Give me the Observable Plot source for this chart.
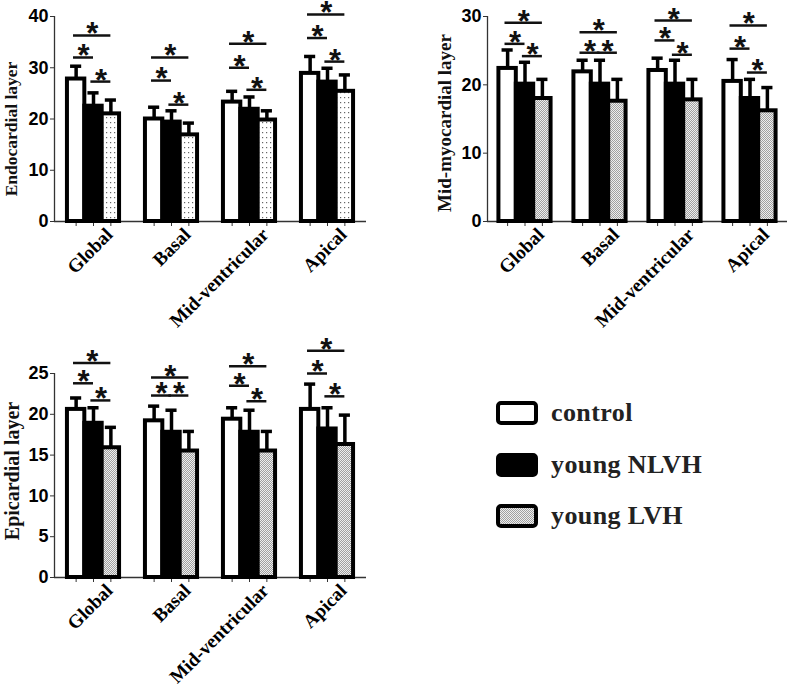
<!DOCTYPE html>
<html><head><meta charset="utf-8">
<script src="https://cdn.jsdelivr.net/npm/d3@7"></script>
<script src="https://cdn.jsdelivr.net/npm/@observablehq/plot@0.6"></script>
<style>
body{margin:0;background:#fff;}
#root{position:relative;width:800px;height:687px;overflow:hidden;background:#fff;}
.panel{position:absolute;}
.panel svg{overflow:visible;}
.ylab{position:absolute;font-weight:bold;font-family:"Liberation Serif","Times New Roman",serif;white-space:nowrap;transform:translate(-50%,-50%) rotate(-90deg);color:#111;}
.legrow{position:absolute;display:flex;align-items:center;font:bold 26px "Liberation Serif","Times New Roman",serif;letter-spacing:0.4px;color:#222;}
.legrow svg{margin-right:13px;}
</style></head>
<body>
<svg width="0" height="0" style="position:absolute">
<defs>
<pattern id="dots" width="4" height="5" patternUnits="userSpaceOnUse"><rect width="4" height="5" fill="#fff"/><rect x="1" y="2" width="1.2" height="1.2" fill="#666"/></pattern>
<pattern id="stipple" width="2" height="2" patternUnits="userSpaceOnUse"><rect width="2" height="2" fill="#eee"/><rect width="1" height="1" fill="#a0a0a0"/><rect x="1" y="1" width="1" height="1" fill="#a0a0a0"/></pattern>
</defs></svg>
<div id="root"></div>
<script>
const categories = ["Global", "Basal", "Mid-ventricular", "Apical"];
const groups = ["control", "young NLVH", "young LVH"];

// Endocardial layer: mean and SD (rows = categories, cols = groups)
const endoMean = [[27.8, 22.5, 21.0], [20.0, 19.4, 16.9], [23.3, 21.9, 19.8], [28.9, 27.2, 25.4]];
const endoSD   = [[2.5, 2.6, 2.7], [2.3, 2.2, 2.3], [2.1, 2.4, 1.8], [3.3, 2.7, 3.2]];
const endoSigCN = [32.0, 27.5, 30.0, 35.8];
const endoSigCL = [36.3, 32.0, 34.7, 40.4];
const endoSigNL = [27.3, 22.8, 25.7, 31.2];

// Mid-myocardial layer
const midMean = [[22.4, 20.1, 18.0], [21.9, 20.1, 17.6], [22.1, 20.1, 17.8], [20.5, 18.0, 16.2]];
const midSD   = [[2.7, 3.2, 2.8], [1.7, 3.5, 3.2], [1.8, 3.5, 3.0], [3.2, 2.8, 3.4]];
const midSigCN = [26.0, 24.7, 26.5, 25.3];
const midSigCL = [29.1, 27.7, 29.4, 28.7];
const midSigNL = [24.2, 24.7, 24.4, 21.8];

// Epicardial layer
const epiMean = [[20.6, 18.9, 15.9], [19.2, 17.8, 15.5], [19.4, 17.8, 15.5], [20.6, 18.2, 16.3]];
const epiSD   = [[1.4, 1.9, 2.5], [1.8, 2.7, 2.4], [1.4, 2.7, 2.4], [3.1, 2.6, 3.6]];
const epiSigCN = [23.8, 22.3, 23.5, 25.0];
const epiSigCL = [26.3, 24.5, 25.9, 27.8];
const epiSigNL = [21.7, 22.3, 21.6, 22.2];

const ticksEndo = [0, 10, 20, 30, 40];
const ticksMid = [0, 10, 20, 30];
const ticksEpi = [0, 5, 10, 15, 20, 25];

function panel(o) {
  const rows = [];
  categories.forEach((c, ci) => groups.forEach((g, gi) =>
    rows.push({category: c, group: g, gi, mean: o.means[ci][gi], top: o.means[ci][gi] + o.sds[ci][gi]})));
  const sig = [];
  categories.forEach((c, ci) => {
    sig.push({category: c, a: 0, b: 1, y: o.sigCN[ci]});
    sig.push({category: c, a: 0, b: 2, y: o.sigCL[ci]});
    sig.push({category: c, a: 1, b: 2, y: o.sigNL[ci]});
  });
  const xd = [1 - o.xHalf, 1 + o.xHalf];
  return Plot.plot({
    width: o.width, height: o.height,
    marginLeft: o.ml, marginRight: o.mr, marginTop: o.mt, marginBottom: o.mb,
    fx: {domain: categories, padding: 0, axis: null},
    x: {domain: xd, axis: null},
    y: {domain: [0, o.yMax], axis: null},
    style: {background: "transparent", overflow: "visible", color: "#000"},
    marks: [
      Plot.ruleY([0], {stroke: "#333", strokeWidth: 1.3}),
      Plot.ruleX([xd[0]], {facetAnchor: "left", stroke: "#333", strokeWidth: 1.3}),
      Plot.axisY({ticks: o.ticks, tickSize: 4, tickPadding: 2, fontSize: 18, fontWeight: "bold",
        fontFamily: "Liberation Sans, Arial, sans-serif", label: null, stroke: "#333"}),
      Plot.axisX({ticks: [0, 1, 2], tickSize: 5, tickFormat: () => "", label: null, stroke: "#333"}),
      Plot.axisFx({anchor: "bottom", tickRotate: -45, tickSize: 0, tickPadding: 10, dx: 16,
        fontSize: 19, fontWeight: "bold", fontFamily: "Liberation Serif, Times New Roman, serif", label: null}),
      ...groups.map((g, gi) => Plot.rect(rows.filter(d => d.gi === gi), {
        fx: "category", x1: d => d.gi - 0.5, x2: d => d.gi + 0.5, y1: 0, y2: "mean",
        fill: o.fills[gi], stroke: "#000", strokeWidth: 4
      })),
      Plot.ruleX(rows, {fx: "category", x: "gi", y1: "mean", y2: "top", stroke: "#000", strokeWidth: 3.5}),
      Plot.ruleY(rows, {fx: "category", x1: d => d.gi - 0.32, x2: d => d.gi + 0.32, y: "top", stroke: "#000", strokeWidth: 3.5}),
      Plot.ruleY(sig, {fx: "category", x1: d => d.a - 0.15, x2: d => d.b, y: "y", stroke: "#111", strokeWidth: 2.5}),
      Plot.text(sig, {fx: "category", x: d => (d.a + d.b) / 2 - 0.07, y: "y", text: () => "*", dy: -1,
        fontSize: 31, fontWeight: "bold", fontFamily: "Liberation Sans, Arial, sans-serif", fill: "#111"})
    ]
  });
}

const root = document.getElementById("root");
function place(el, left, top) {
  const d = document.createElement("div");
  d.className = "panel"; d.style.left = left + "px"; d.style.top = top + "px";
  d.appendChild(el); root.appendChild(d);
}
function ylab(text, cx, cy, size) {
  const d = document.createElement("div");
  d.className = "ylab"; d.textContent = text;
  d.style.fontSize = size + "px";
  d.style.left = cx + "px"; d.style.top = cy + "px";
  root.appendChild(d);
}

place(panel({means: endoMean, sds: endoSD, sigCN: endoSigCN, sigCL: endoSigCL, sigNL: endoSigNL,
  yMax: 40, ticks: ticksEndo, fills: ["#fff", "#000", "url(#dots)"], xHalf: 2.245,
  width: 380, height: 330, ml: 53, mr: 13, mt: 16, mb: 109}), 0, 0);
place(panel({means: midMean, sds: midSD, sigCN: midSigCN, sigCL: midSigCL, sigNL: midSigNL,
  yMax: 30, ticks: ticksMid, fills: ["#fff", "#000", "url(#stipple)"], xHalf: 2.157,
  width: 400, height: 330, ml: 86, mr: 12, mt: 16, mb: 109}), 400, 0);
place(panel({means: epiMean, sds: epiSD, sigCN: epiSigCN, sigCL: epiSigCL, sigNL: epiSigNL,
  yMax: 25, ticks: ticksEpi, fills: ["#fff", "#000", "url(#stipple)"], xHalf: 2.245,
  width: 380, height: 357, ml: 53, mr: 13, mt: 43, mb: 110}), 0, 330);

ylab("Endocardial layer", 11, 129, 17.5);
ylab("Mid-myocardial layer", 445, 123, 19);
ylab("Epicardial layer", 12, 471, 20);

// legend
const legendFills = ["#fff", "#000", "url(#stipple)"];
const legendY = [413, 465, 516];
groups.forEach((g, i) => {
  const row = document.createElement("div");
  row.className = "legrow";
  row.style.left = "496px"; row.style.top = (legendY[i] - 14) + "px"; row.style.height = "28px";
  row.innerHTML = `<svg width="42" height="24"><rect x="2" y="2" width="38" height="20" rx="3" fill="${legendFills[i]}" stroke="#000" stroke-width="4"/></svg><span>${g}</span>`;
  root.appendChild(row);
});
</script>
</body></html>
